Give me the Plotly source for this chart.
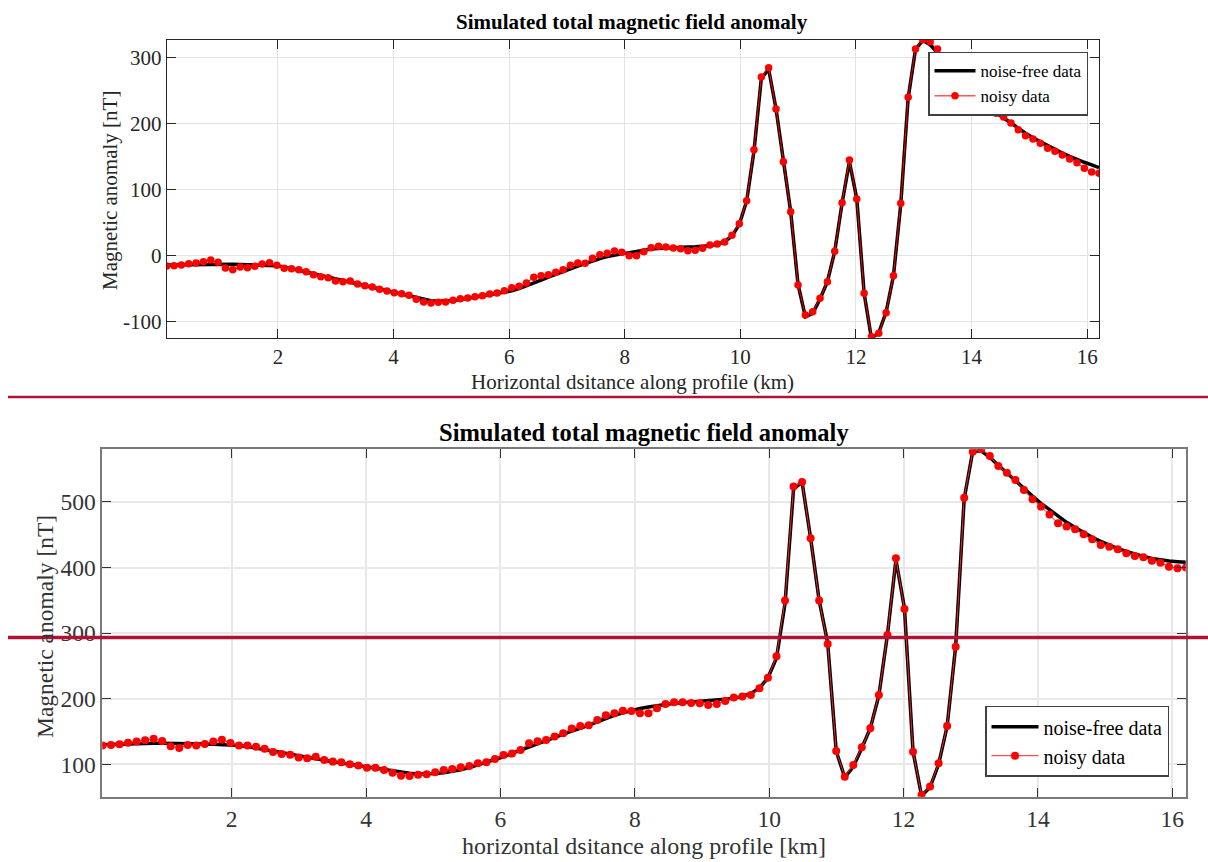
import plotly.graph_objects as go

# ---------------- data ----------------
distance_km = [
    0.076, 0.203, 0.330, 0.457, 0.584, 0.711, 0.838, 0.965, 1.092, 1.219,
    1.346, 1.473, 1.600, 1.727, 1.854, 1.981, 2.108, 2.235, 2.362, 2.489,
    2.616, 2.743, 2.870, 2.997, 3.124, 3.251, 3.378, 3.505, 3.632, 3.759,
    3.886, 4.013, 4.140, 4.267, 4.394, 4.521, 4.648, 4.775, 4.902, 5.029,
    5.156, 5.283, 5.410, 5.537, 5.664, 5.791, 5.918, 6.045, 6.172, 6.299,
    6.426, 6.553, 6.680, 6.807, 6.934, 7.061, 7.188, 7.315, 7.442, 7.569,
    7.696, 7.823, 7.950, 8.077, 8.204, 8.331, 8.458, 8.585, 8.712, 8.839,
    8.966, 9.093, 9.220, 9.347, 9.474, 9.601, 9.728, 9.855, 9.982, 10.109,
    10.236, 10.363, 10.490, 10.617, 10.744, 10.871, 10.998, 11.125, 11.252, 11.379,
    11.506, 11.633, 11.760, 11.887, 12.014, 12.141, 12.268, 12.395, 12.522, 12.649,
    12.776, 12.903, 13.030, 13.157, 13.284, 13.411, 13.538, 13.665, 13.792, 13.919,
    14.046, 14.173, 14.300, 14.427, 14.554, 14.681, 14.808, 14.935, 15.062, 15.189,
    15.316, 15.443, 15.570, 15.697, 15.824, 15.951, 16.078, 16.205,
]

# top chart
top_noise_free = [
    -14.5, -14.3, -14.0, -13.8, -13.6, -13.5, -13.4, -13.4, -13.5, -13.6,
    -13.8, -14.0, -14.3, -14.7, -15.2, -15.7, -17.5, -19.8, -22.3, -25.0,
    -28.0, -30.6, -33.2, -35.8, -38.4, -41.0, -43.5, -46.0, -48.5, -51.0,
    -53.5, -56.0, -58.5, -61.5, -64.5, -67.0, -68.8, -69.6, -69.7, -68.5,
    -66.8, -65.0, -63.2, -61.5, -60.0, -58.2, -56.2, -53.8, -50.5, -46.5,
    -42.0, -37.5, -33.0, -28.5, -24.5, -20.5, -16.5, -12.5, -8.5, -5.0,
    -2.0, 0.5, 2.5, 4.0, 6.0, 8.0, 9.5, 10.5, 11.3, 11.8,
    12.2, 12.5, 13.0, 13.6, 14.6, 16.3, 21.0, 29.0, 47.0, 82.0,
    158.0, 268.0, 282.0, 222.0, 142.0, 66.0, -44.0, -93.0, -88.0, -66.0,
    -40.0, 6.0, 79.0, 142.0, 86.0, -57.0, -126.0, -117.0, -86.0, -31.0,
    78.0, 238.0, 312.0, 326.0, 319.0, 307.0, 292.0, 278.0, 265.0, 254.0,
    244.0, 235.0, 225.0, 216.0, 208.0, 200.0, 192.0, 185.0, 178.0, 172.0,
    166.0, 160.0, 155.0, 150.0, 145.0, 141.0, 137.0, 133.0,
]
top_noisy = [
    -16.2, -15.7, -14.6, -12.6, -11.6, -9.6, -7.1, -10.6, -19.2, -21.7,
    -17.7, -18.7, -16.7, -13.1, -11.1, -15.2, -19.7, -20.2, -21.7, -24.7,
    -29.3, -32.3, -33.8, -38.9, -39.9, -38.9, -43.4, -46.0, -48.0, -51.5,
    -54.0, -56.6, -58.1, -60.6, -66.7, -70.7, -72.2, -71.2, -70.7, -68.2,
    -65.7, -64.6, -62.6, -61.1, -58.6, -57.1, -53.5, -49.0, -47.0, -41.9,
    -33.3, -30.8, -29.3, -25.8, -21.7, -15.2, -11.6, -12.1, -4.5, 1.0,
    3.0, 6.6, 4.5, -0.5, -0.5, 5.6, 11.6, 13.6, 12.6, 11.1,
    10.1, 7.1, 7.6, 10.6, 15.7, 17.2, 20.2, 30.3, 48.0, 82.8,
    160.1, 270.2, 284.3, 221.7, 141.9, 66.2, -44.9, -90.4, -85.4, -65.2,
    -39.9, 6.1, 79.8, 144.4, 85.4, -57.6, -123.2, -118.2, -86.9, -30.8,
    78.8, 239.4, 312.6, 326.8, 323.7, 312.6, 293.0, 280.0, 266.0, 253.0,
    246.0, 235.4, 222.7, 215.2, 209.6, 200.5, 190.4, 181.3, 176.3, 169.7,
    162.1, 157.6, 152.0, 146.0, 140.4, 131.8, 126.3, 124.2,
]

# bottom chart
bottom_noise_free = [
    130.0, 130.5, 131.0, 131.5, 132.0, 132.0, 132.0, 132.0, 132.0, 131.5,
    131.5, 131.0, 131.0, 130.5, 130.0, 129.5, 128.5, 127.0, 125.0, 123.0,
    120.5, 118.0, 115.5, 113.0, 110.5, 108.0, 106.0, 104.0, 102.0, 100.0,
    98.0, 96.0, 94.0, 92.0, 89.5, 87.5, 86.2, 85.4, 85.2, 85.8,
    87.2, 89.2, 91.8, 95.0, 98.8, 103.0, 107.0, 111.5, 116.5, 121.5,
    126.5, 131.5, 136.0, 140.5, 145.5, 150.5, 155.0, 160.0, 165.0, 170.0,
    174.5, 178.5, 182.0, 185.0, 187.5, 189.5, 191.5, 193.0, 194.0, 195.0,
    195.8, 196.5, 197.3, 198.5, 200.5, 203.5, 208.0, 216.0, 232.0, 262.0,
    345.0, 520.0, 530.0, 445.0, 350.0, 285.0, 120.0, 80.0, 96.0, 125.0,
    155.0, 205.0, 297.0, 412.0, 338.0, 120.0, 52.0, 65.0, 100.0, 158.0,
    280.0, 505.0, 577.0, 578.0, 568.0, 556.0, 544.0, 532.0, 520.0, 509.0,
    498.0, 488.0, 478.0, 469.0, 461.0, 453.0, 446.0, 440.0, 434.0, 429.0,
    424.5, 420.5, 417.0, 414.0, 411.5, 410.0, 409.0, 408.0,
]
bottom_noisy = [
    128.5, 129.5, 130.5, 133.0, 134.6, 136.6, 139.1, 135.6, 127.4, 124.9,
    129.5, 128.5, 131.0, 134.6, 137.6, 132.5, 128.5, 128.5, 126.9, 123.9,
    118.8, 115.8, 114.7, 110.2, 109.1, 111.7, 106.6, 104.1, 103.0, 100.0,
    98.0, 94.9, 94.9, 91.4, 87.3, 82.7, 82.2, 84.2, 84.8, 87.8,
    91.4, 92.9, 95.4, 97.5, 101.5, 103.0, 108.1, 114.2, 116.3, 121.9,
    132.0, 135.1, 137.1, 142.2, 147.3, 154.4, 158.5, 159.5, 167.6, 174.7,
    177.8, 181.8, 181.3, 177.8, 177.8, 185.4, 192.0, 194.5, 194.5, 193.5,
    193.0, 190.5, 192.0, 196.6, 201.7, 203.2, 205.7, 215.9, 232.1, 264.7,
    349.6, 523.4, 530.5, 444.6, 349.6, 283.5, 120.3, 81.2, 99.0, 125.9,
    154.9, 205.7, 297.2, 414.1, 336.8, 119.3, 53.2, 66.0, 101.5, 158.4,
    279.4, 506.6, 576.7, 580.3, 570.1, 554.9, 544.7, 533.5, 518.3, 504.1,
    492.9, 480.7, 467.5, 462.4, 458.3, 450.7, 443.1, 434.4, 431.9, 427.8,
    421.7, 417.7, 415.6, 410.5, 407.5, 401.4, 398.9, 399.9,
]

x_tick_vals = [2, 4, 6, 8, 10, 12, 14, 16]
top_y_tick_vals = [-100, 0, 100, 200, 300]
top_y_tick_text = ["-100", "0", "100", "200", "300"]
bottom_y_tick_vals = [100, 200, 300, 400, 500]

title_text = "Simulated total magnetic field anomaly"
top_xlabel = "Horizontal dsitance along profile (km)"
bottom_xlabel = "horizontal dsitance along profile [km]"
ylabel = "Magnetic anomaly [nT]"
legend_names = ["noise-free data", "noisy data"]

# ---------------- figure ----------------
W, H = 1208, 862
SERIF = "Liberation Serif, Times New Roman, serif"


def px(x):
    return x / W


def py(y):
    return 1 - y / H


fig = go.Figure()

fig.add_trace(go.Scatter(x=distance_km, y=top_noise_free, mode="lines",
                         line=dict(color="black", width=3.5),
                         name=legend_names[0], xaxis="x", yaxis="y", legend="legend"))
fig.add_trace(go.Scatter(x=distance_km, y=top_noisy, mode="lines+markers",
                         line=dict(color="#ff0000", width=1),
                         marker=dict(color="#ff0000", size=7.5),
                         name=legend_names[1], xaxis="x", yaxis="y", legend="legend"))
fig.add_trace(go.Scatter(x=distance_km, y=bottom_noise_free, mode="lines",
                         line=dict(color="black", width=3.5),
                         name=legend_names[0], xaxis="x2", yaxis="y2", legend="legend2"))
fig.add_trace(go.Scatter(x=distance_km, y=bottom_noisy, mode="lines+markers",
                         line=dict(color="#ff2020", width=1),
                         marker=dict(color="#ff0000", size=8),
                         name=legend_names[1], xaxis="x2", yaxis="y2", legend="legend2"))

top_axis_common = dict(showline=True, linecolor="#262626", linewidth=1, mirror="ticks",
                       ticks="inside", ticklen=9, tickcolor="#262626", tickwidth=1,
                       showgrid=True, gridcolor="#e3e3e3", gridwidth=1, zeroline=False,
                       tickfont=dict(family=SERIF, size=21, color="#262626"),
                       automargin=False)
bot_axis_common = dict(showline=True, linecolor="#7a7a7a", linewidth=1.6, mirror="ticks",
                       ticks="inside", ticklen=9, tickcolor="#333333", tickwidth=1.2,
                       showgrid=True, gridcolor="#e8e8e8", gridwidth=1.6, zeroline=False,
                       tickfont=dict(family=SERIF, size=23.5, color="#333333"),
                       automargin=False)

fig.update_layout(
    width=W, height=H,
    margin=dict(l=0, r=0, t=0, b=0),
    paper_bgcolor="white", plot_bgcolor="white",
    xaxis=dict(domain=[px(166.7), px(1099.3)], range=[0.076, 16.21],
               tickvals=x_tick_vals, anchor="y", **top_axis_common),
    yaxis=dict(domain=[py(337.7), py(39.7)], range=[-124.8, 326.7],
               tickvals=top_y_tick_vals, ticktext=top_y_tick_text, anchor="x", **top_axis_common),
    xaxis2=dict(domain=[px(102.3), px(1185.7)], range=[0.074, 16.2],
                tickvals=x_tick_vals, anchor="y2", **bot_axis_common),
    yaxis2=dict(domain=[py(796.7), py(449.3)], range=[50.6, 580.3],
                tickvals=bottom_y_tick_vals, anchor="x2", **bot_axis_common),
    legend=dict(x=px(928), y=py(51.7), xanchor="left", yanchor="top",
                bgcolor="white", bordercolor="#404040", borderwidth=1.5,
                font=dict(family=SERIF, size=17, color="black"),
                tracegroupgap=0, itemwidth=41),
    legend2=dict(x=px(985), y=py(705.7), xanchor="left", yanchor="top",
                 bgcolor="white", bordercolor="#404040", borderwidth=1.5,
                 font=dict(family=SERIF, size=20, color="black"),
                 tracegroupgap=0, itemwidth=47),
    showlegend=True,
)

annotations = [
    dict(text="<b>" + title_text + "</b>", x=px(632), y=py(22), font=dict(size=21)),
    dict(text=top_xlabel, x=px(632), y=py(382), font=dict(size=21, color="#262626")),
    dict(text=ylabel, x=px(110), y=py(190), textangle=-90, font=dict(size=21, color="#262626")),
    dict(text="<b>" + title_text + "</b>", x=px(644), y=py(432), font=dict(size=24.5)),
    dict(text=bottom_xlabel, x=px(644), y=py(846), font=dict(size=24, color="#333333")),
    dict(text=ylabel, x=px(45), y=py(627), textangle=-90, font=dict(size=23.5, color="#333333")),
]
for a in annotations:
    a.setdefault("font", {})
    a["font"].setdefault("color", "black")
    a["font"]["family"] = SERIF
    fig.add_annotation(xref="paper", yref="paper", xanchor="center", yanchor="middle",
                       showarrow=False, **a)

# red divider lines
DIV = "#ae1235"
fig.add_shape(type="line", xref="paper", yref="paper", x0=px(8), x1=1, y0=py(397), y1=py(397),
              line=dict(color=DIV, width=2.5), layer="above")
fig.add_shape(type="line", xref="paper", yref="paper", x0=px(8), x1=1, y0=py(637.5), y1=py(637.5),
              line=dict(color=DIV, width=3.5), layer="above")

fig.write_html("out.html")
